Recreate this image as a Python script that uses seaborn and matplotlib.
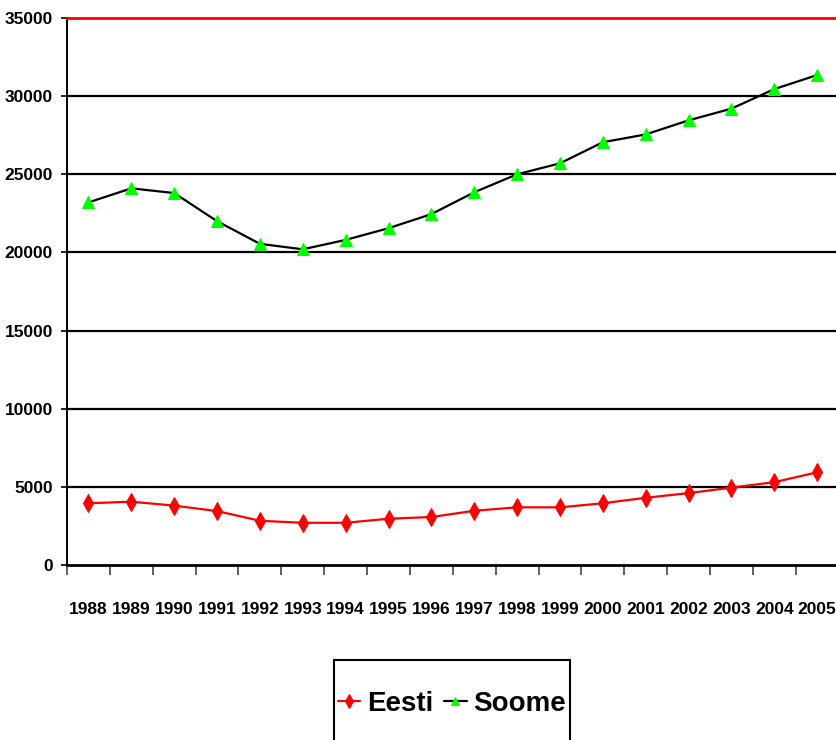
import matplotlib
matplotlib.use("Agg")
import matplotlib.pyplot as plt
from matplotlib.patches import Rectangle
import seaborn as sns
import pandas as pd
import numpy as np

years = list(range(1988, 2006))
eesti = [3950, 4050, 3800, 3450, 2830, 2700, 2700, 2960, 3070, 3470,
         3690, 3690, 3950, 4300, 4600, 4950, 5300, 5930]
soome = [23200, 24100, 23800, 22000, 20550, 20200, 20800, 21550, 22450, 23850,
         25000, 25700, 27050, 27550, 28450, 29200, 30450, 31350]
y_ticks = [0, 5000, 10000, 15000, 20000, 25000, 30000, 35000]

sns.set_theme(style="white")
plt.rcParams["font.family"] = ["Liberation Sans", "DejaVu Sans"]
plt.rcParams["font.weight"] = "bold"
plt.rcParams["text.color"] = "black"
plt.rcParams["xtick.color"] = "black"
plt.rcParams["ytick.color"] = "black"

df = pd.DataFrame({"year": years * 2,
                   "value": eesti + soome,
                   "country": ["Eesti"] * len(years) + ["Soome"] * len(years)})

W, H = 836, 740
fig = plt.figure(figsize=(W / 100, H / 100), dpi=100)
ax = fig.add_axes([67 / W, (H - 565) / H, (838.6 - 67) / W, (565 - 18) / H])

sns.lineplot(data=df[df.country == "Eesti"], x="year", y="value", ax=ax,
             color="#ff0000", lw=1.6, marker="d", markersize=9,
             markerfacecolor="#ff0000", markeredgecolor="#ff0000", label="Eesti")
sns.lineplot(data=df[df.country == "Soome"], x="year", y="value", ax=ax,
             color="black", lw=1.6, marker="^", markersize=8,
             markerfacecolor="#00ff00", markeredgecolor="#00ff00", label="Soome")

ax.set_xlim(years[0] - 0.5, years[-1] + 0.5)
ax.set_ylim(0, 35000)
ax.set_yticks(y_ticks)
ax.set_yticklabels([str(v) for v in y_ticks], fontsize=12.5, fontweight="bold")
ax.set_xticks(years)
ax.set_xticklabels([str(y) for y in years], fontsize=12.5, fontweight="bold")
ax.set_xticks(np.arange(years[0] - 0.5, years[-1] + 1.0, 1.0), minor=True)
ax.tick_params(axis="x", which="major", length=0, pad=27)
ax.tick_params(axis="x", which="minor", length=7, width=1.2, color="#444444",
               direction="out", bottom=True)
ax.tick_params(axis="y", which="major", length=4, width=1.2, color="black",
               direction="out", left=True, pad=6)
ax.set_xlabel("")
ax.set_ylabel("")

for v in y_ticks[1:-1]:
    ax.axhline(v, color="black", lw=1.6, zorder=0)

ax.spines["right"].set_visible(False)
ax.spines["top"].set_color("#ff0000")
ax.spines["top"].set_linewidth(2)
ax.spines["left"].set_color("black")
ax.spines["left"].set_linewidth(1.4)
ax.spines["bottom"].set_color("black")
ax.spines["bottom"].set_linewidth(2)

ax.get_legend().remove()
handles, labels = ax.get_legend_handles_labels()
leg = fig.legend(handles, labels, loc="center",
                 bbox_to_anchor=(452 / W, (H - 704) / H), ncol=2,
                 prop={"size": 20, "weight": "bold"}, frameon=False,
                 handlelength=0.8, handletextpad=0.25, columnspacing=0.4,
                 borderpad=0.2, markerscale=0.8)

# legend box, open past the bottom edge of the figure
fig.patches.append(Rectangle((334 / W, -20 / H), (570 - 334) / W, (H - 660 + 20) / H,
                             transform=fig.transFigure, fill=False,
                             edgecolor="black", lw=1.5, zorder=0))

fig.savefig("out.png", dpi=100)
